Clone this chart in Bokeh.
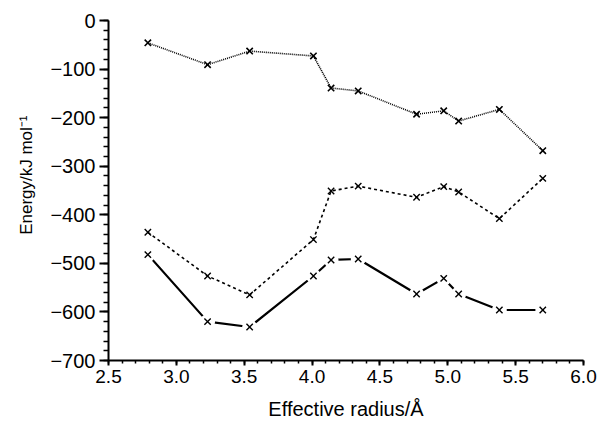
from bokeh.plotting import figure
from bokeh.models import Range1d, SingleIntervalTicker, CustomJSTickFormatter, Title
from bokeh.embed import file_html
from bokeh.resources import INLINE

radius = [2.79, 3.23, 3.54, 4.01, 4.14, 4.34, 4.77, 4.97, 5.08, 5.38, 5.70]
energy_top = [-46, -91, -63, -73, -139, -145, -193, -186, -207, -183, -268]
energy_mid = [-436, -526, -565, -451, -351, -341, -364, -342, -353, -408, -325]
energy_low = [-482, -620, -631, -526, -493, -491, -563, -531, -563, -596, -596]

FONT = "Liberation Sans"

p = figure(width=600, height=427, output_backend="svg", toolbar_location=None,
           x_range=Range1d(2.5, 6.0), y_range=Range1d(-700, 0),
           min_border_left=108, min_border_right=17, min_border_top=20, min_border_bottom=67)
p.outline_line_color = None
p.grid.visible = False
p.background_fill_color = "white"
p.border_fill_color = "white"

p.xaxis.ticker = SingleIntervalTicker(interval=0.5, num_minor_ticks=5)
p.yaxis.ticker = SingleIntervalTicker(interval=100, num_minor_ticks=5)
p.xaxis.formatter = CustomJSTickFormatter(code="return tick.toFixed(1);")
p.yaxis.formatter = CustomJSTickFormatter(code="return tick.toFixed(0).replace('-', '\u2212');")

for ax in (p.xaxis, p.yaxis):
    ax.axis_line_width = 2
    ax.axis_line_color = "black"
    ax.major_tick_line_width = 2
    ax.minor_tick_line_width = 1.5
    ax.major_tick_in = 0
    ax.minor_tick_in = 0
    ax.major_label_text_font = FONT
    ax.major_label_text_color = "black"
    ax.axis_label_text_font = FONT
    ax.axis_label_text_font_size = "20px"
    ax.axis_label_text_font_style = "normal"
    ax.axis_label_text_color = "black"

p.xaxis.major_tick_out = 5
p.xaxis.minor_tick_out = 3
p.yaxis.major_tick_out = 9
p.yaxis.minor_tick_out = 5
p.xaxis.major_label_text_font_size = "19px"
p.yaxis.major_label_text_font_size = "20px"
p.xaxis.axis_label = "Effective radius/Å"
p.xaxis.axis_label_standoff = 12
p.xaxis.major_label_standoff = 4
p.yaxis.major_label_standoff = 4

ylab = Title(text="Energy/kJ mol⁻¹", align="right", offset=95, standoff=24,
             text_font=FONT, text_font_size="17px", text_font_style="normal",
             text_color="black")
p.add_layout(ylab, "left")

# top series (dotted)
p.line(radius, energy_top, line_color="black", line_width=1.6, line_dash="1 1")
p.scatter(radius, energy_top, marker="x", size=9, line_color="black", line_width=1.6)

# middle series (dashed)
p.line(radius, energy_mid, line_color="black", line_width=1.6, line_dash="3 3")
p.scatter(radius, energy_mid, marker="x", size=9, line_color="black", line_width=1.4)

# bottom series (solid, with gaps around markers)
p.line(radius, energy_low, line_color="black", line_width=2.2)
p.scatter(radius, energy_low, marker="circle", size=15, fill_color="white", line_color=None)
p.scatter(radius, energy_low, marker="x", size=9, line_color="black", line_width=1.4)

open("out.html", "w").write(file_html(p, INLINE))
